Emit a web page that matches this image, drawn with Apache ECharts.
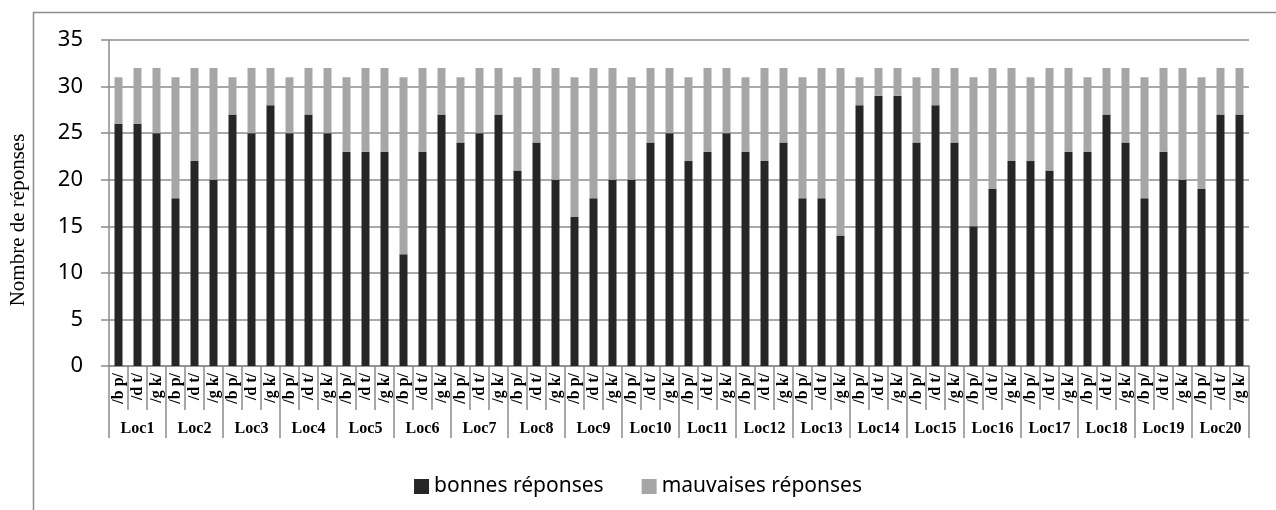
<!DOCTYPE html>
<html>
<head>
<meta charset="utf-8">
<script src="https://cdn.jsdelivr.net/npm/echarts@6/dist/echarts.min.js"></script>
<style>
  html, body { margin: 0; padding: 0; background: #fff; }
  #chart { width: 1276px; height: 510px; }
</style>
</head>
<body>
<div id="chart"></div>
<script>
// groupes et sons
const locs = ['Loc1', 'Loc2', 'Loc3', 'Loc4', 'Loc5', 'Loc6', 'Loc7', 'Loc8', 'Loc9', 'Loc10',
  'Loc11', 'Loc12', 'Loc13', 'Loc14', 'Loc15', 'Loc16', 'Loc17', 'Loc18', 'Loc19', 'Loc20'];
const sons = ['/b p/', '/d t/', '/g k/'];

// une valeur par son, Loc1 -> Loc20
const bonnes = [
  26, 26, 25,  18, 22, 20,  27, 25, 28,  25, 27, 25,  23, 23, 23,
  12, 23, 27,  24, 25, 27,  21, 24, 20,  16, 18, 20,  20, 24, 25,
  22, 23, 25,  23, 22, 24,  18, 18, 14,  28, 29, 29,  24, 28, 24,
  15, 19, 22,  22, 21, 23,  23, 27, 24,  18, 23, 20,  19, 27, 27
];
const mauvaises = [
  5, 6, 7,  13, 10, 12,  4, 7, 4,  6, 5, 7,  8, 9, 9,
  19, 9, 5,  7, 7, 5,  10, 8, 12,  15, 14, 12,  11, 8, 7,
  9, 9, 7,  8, 10, 8,  13, 14, 18,  3, 3, 3,  7, 4, 8,
  16, 13, 10,  9, 11, 9,  8, 5, 8,  13, 9, 12,  12, 5, 5
];
const yTicks = { min: 0, max: 35, interval: 5 };

const categories = [];
locs.forEach(() => sons.forEach(s => categories.push(s)));

const lineGray = '#8c8c8c';
const chart = echarts.init(document.getElementById('chart'), null, { renderer: 'canvas' });

const option = {
  animation: false,
  backgroundColor: '#fff',
  graphic: [
    {
      type: 'rect',
      left: 31, top: 10,
      shape: { width: 1300, height: 600 },
      style: { fill: 'none', stroke: lineGray, lineWidth: 1.5 },
      silent: true
    }
  ],
  grid: { left: 100, right: 27, top: 40, bottom: 144 },
  legend: {
    data: ['bonnes réponses', 'mauvaises réponses'],
    left: 'center',
    top: 471,
    icon: 'rect',
    itemWidth: 15,
    itemHeight: 15,
    itemGap: 38,
    textStyle: { fontFamily: 'Noto Sans', fontSize: 21, color: '#000' }
  },
  xAxis: [
    {
      type: 'category',
      data: categories,
      axisLine: { show: true, lineStyle: { color: lineGray, width: 1.5 } },
      axisTick: { show: true, interval: 0, length: 44, lineStyle: { color: lineGray, width: 1.5 } },
      axisLabel: {
        interval: 0,
        rotate: 90,
        margin: 7,
        fontFamily: 'Liberation Serif',
        fontWeight: 'bold',
        fontSize: 16,
        color: '#000'
      }
    },
    {
      type: 'category',
      position: 'bottom',
      offset: 44,
      data: locs,
      axisLine: { show: false },
      axisTick: { show: true, interval: 0, length: 28, lineStyle: { color: lineGray, width: 1.5 } },
      axisLabel: {
        interval: 0,
        margin: 11,
        fontFamily: 'Liberation Serif',
        fontWeight: 'bold',
        fontSize: 16,
        color: '#000'
      }
    }
  ],
  yAxis: {
    type: 'value',
    min: yTicks.min,
    max: yTicks.max,
    interval: yTicks.interval,
    name: 'Nombre de réponses',
    nameLocation: 'middle',
    nameGap: 80,
    nameTextStyle: { fontFamily: 'Liberation Serif', fontSize: 21, color: '#000', padding: [0, 34, 0, 0] },
    axisLine: { show: true, lineStyle: { color: lineGray, width: 1.5 } },
    axisTick: { show: true, inside: false, length: 8, lineStyle: { color: lineGray, width: 1.5 } },
    axisLabel: { margin: 26, fontFamily: 'Noto Sans', fontSize: 22, color: '#000' },
    splitLine: { show: true, lineStyle: { color: lineGray, width: 1.5 } }
  },
  series: [
    {
      name: 'bonnes réponses',
      type: 'bar',
      stack: 'total',
      xAxisIndex: 0,
      barWidth: 8,
      itemStyle: { color: '#262626' },
      data: bonnes
    },
    {
      name: 'mauvaises réponses',
      type: 'bar',
      stack: 'total',
      xAxisIndex: 0,
      barWidth: 8,
      itemStyle: { color: '#a6a6a6' },
      data: mauvaises
    }
  ]
};

chart.setOption(option);
</script>
</body>
</html>
